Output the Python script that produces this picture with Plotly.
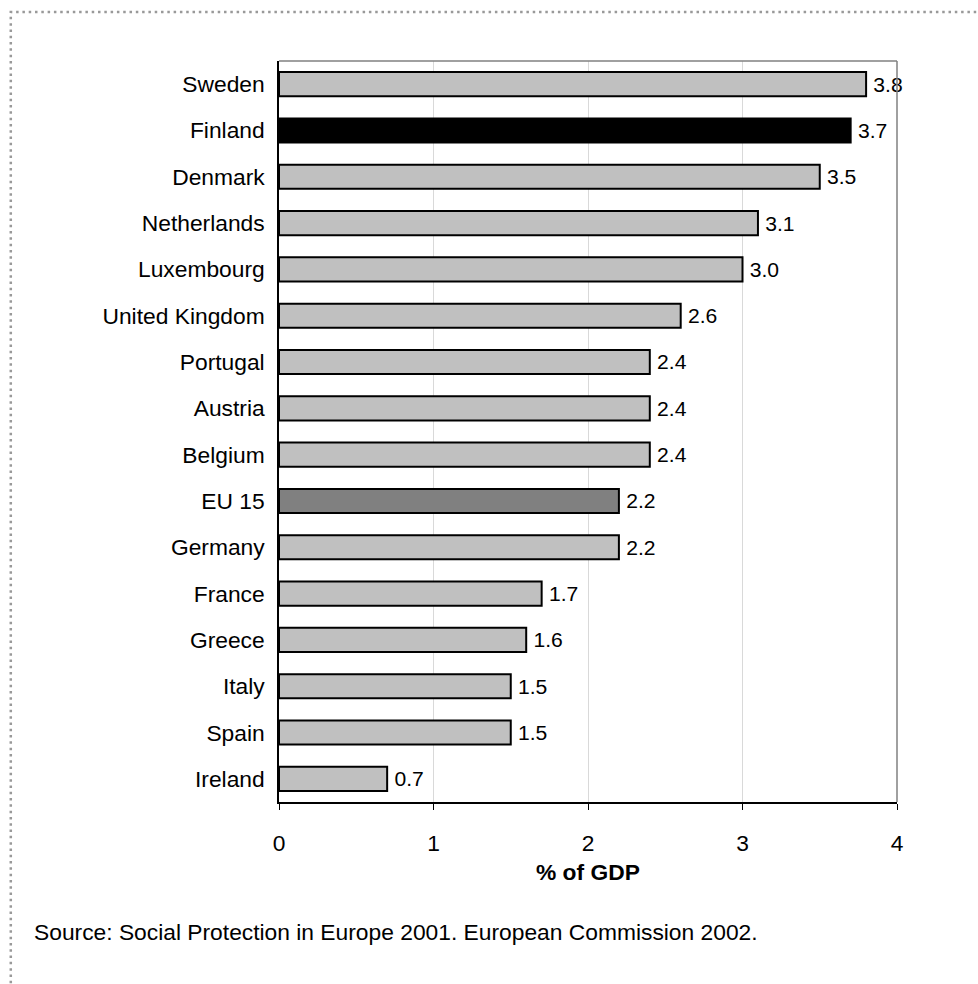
import plotly.graph_objects as go

countries = ["Sweden", "Finland", "Denmark", "Netherlands", "Luxembourg", "United Kingdom",
             "Portugal", "Austria", "Belgium", "EU 15", "Germany", "France", "Greece",
             "Italy", "Spain", "Ireland"]
values = [3.8, 3.7, 3.5, 3.1, 3.0, 2.6, 2.4, 2.4, 2.4, 2.2, 2.2, 1.7, 1.6, 1.5, 1.5, 0.7]
x_ticks = [0, 1, 2, 3, 4]

highlight = {"Finland": "#000000", "EU 15": "#808080"}
colors = [highlight.get(c, "#c0c0c0") for c in countries]
FONT = "Liberation Sans, Arial, sans-serif"
FS = 22.8

fig = go.Figure(go.Bar(
    y=countries, x=values, orientation="h",
    marker=dict(color=colors, line=dict(color="#000000", width=2)),
    text=[f"\u2009{v:.1f}" for v in values], textposition="outside",
    textfont=dict(size=FS, color="#000000", family=FONT),
    cliponaxis=False, width=0.52,
))

fig.update_layout(
    width=978, height=984,
    margin=dict(l=279, r=81, t=61, b=182),
    paper_bgcolor="white", plot_bgcolor="white",
    showlegend=False,
    font=dict(family=FONT, size=FS, color="#000000"),
    xaxis=dict(range=[0, 4], tickvals=x_ticks, ticks="outside", ticklen=6,
               tickcolor="#000000", showgrid=True, gridcolor="#d9d9d9", gridwidth=1,
               showline=True, linecolor="#000000", linewidth=1.5, zeroline=False,
               ticklabelstandoff=14, tickfont=dict(size=FS), fixedrange=True),
    yaxis=dict(categoryorder="array", categoryarray=countries[::-1],
               range=[-0.5, len(countries) - 0.5], ticks="", showline=True,
               linecolor="#000000", linewidth=1.5, ticklabelstandoff=8,
               tickfont=dict(size=FS), fixedrange=True),
    shapes=[
        # plot frame (grey top and right edges)
        dict(type="line", xref="paper", yref="paper", x0=0, x1=1, y0=1, y1=1,
             line=dict(color="#808080", width=1.5)),
        dict(type="line", xref="paper", yref="paper", x0=1, x1=1, y0=0, y1=1,
             line=dict(color="#808080", width=1.5)),
        # dotted outer border
        dict(type="rect", xref="paper", yref="paper", x0=-0.434, x1=1.2, y0=-0.3, y1=1.066,
             line=dict(color="#999999", width=2.5, dash="2.5px,3.8px"), layer="below"),
    ],
    annotations=[
        dict(text="<b>% of GDP</b>", xref="paper", yref="paper", x=0.5, y=-0.095,
             showarrow=False, font=dict(size=FS), xanchor="center", yanchor="middle"),
        dict(text="Source: Social Protection in Europe 2001. European Commission 2002.",
             xref="paper", yref="paper", x=-0.4, y=-0.176, showarrow=False,
             font=dict(size=FS), xanchor="left", yanchor="middle"),
    ],
)

fig.write_html("out.html")
